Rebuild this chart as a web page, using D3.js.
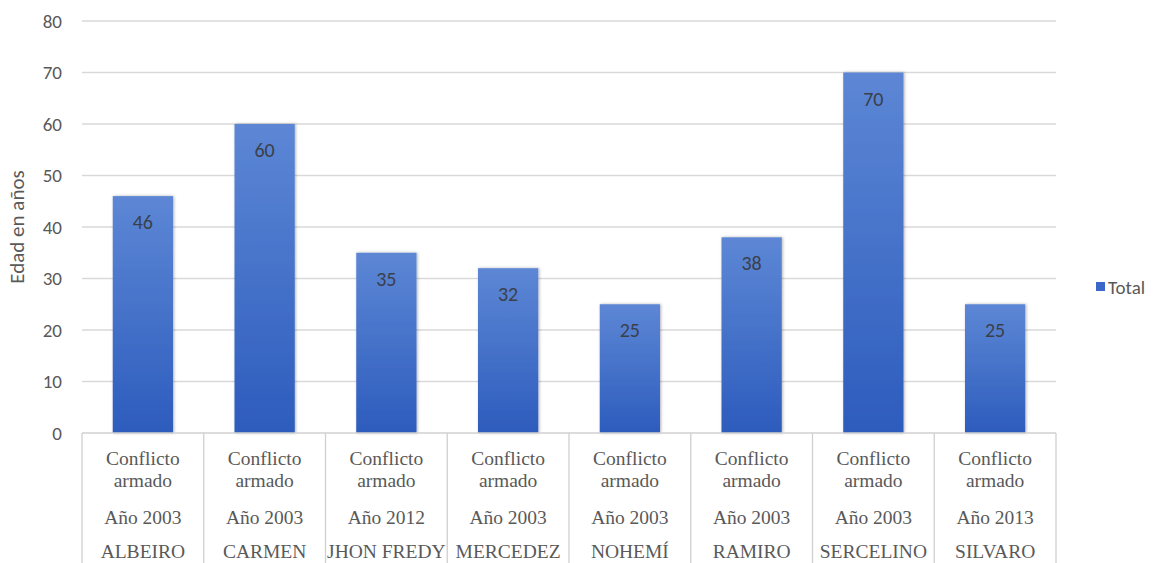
<!DOCTYPE html>
<html>
<head>
<meta charset="utf-8">
<script src="https://cdn.jsdelivr.net/npm/d3@7"></script>
<style>
body { margin: 0; background: #fff; }
</style>
</head>
<body>
<script>
// datos
var nombres = ['ALBEIRO', 'CARMEN', 'JHON FREDY', 'MERCEDEZ', 'NOHEMÍ', 'RAMIRO', 'SERCELINO', 'SILVARO'];
var anios = ['Año 2003', 'Año 2003', 'Año 2012', 'Año 2003', 'Año 2003', 'Año 2003', 'Año 2003', 'Año 2013'];
var causa = ['Conflicto armado', 'Conflicto armado', 'Conflicto armado', 'Conflicto armado',
  'Conflicto armado', 'Conflicto armado', 'Conflicto armado', 'Conflicto armado'];
var edades = [46, 60, 35, 32, 25, 38, 70, 25];
var yTicks = [0, 10, 20, 30, 40, 50, 60, 70, 80];

var w = 1160;
var h = 563;
var plotLeft = 82, plotRight = 1056, plotTop = 21, plotBottom = 433;
var sansFont = 'Carlito, "Open Sans", sans-serif';

var svg = d3.select('body').append('svg').attr('width', w).attr('height', h);

var defs = svg.append('defs');
var grad = defs.append('linearGradient').attr('id', 'barGrad')
  .attr('x1', 0).attr('y1', 0).attr('x2', 0).attr('y2', 1);
grad.append('stop').attr('offset', '0%').attr('stop-color', '#5d87d5');
grad.append('stop').attr('offset', '100%').attr('stop-color', '#2d5cbd');

var shadow = defs.append('filter').attr('id', 'shadow')
  .attr('x', '-20%').attr('y', '-10%').attr('width', '140%').attr('height', '120%');
shadow.append('feDropShadow').attr('dx', 1).attr('dy', 0).attr('stdDeviation', 1.5)
  .attr('flood-color', '#000').attr('flood-opacity', 0.3);

var x = d3.scaleBand().domain(nombres).range([plotLeft, plotRight]).paddingInner(0).paddingOuter(0);
var y = d3.scaleLinear().domain([0, 80]).range([plotBottom, plotTop]);

// gridlines
svg.selectAll('line.grid').data(yTicks.filter(function(d) { return d > 0; })).enter()
  .append('line')
  .attr('x1', plotLeft).attr('x2', plotRight)
  .attr('y1', function(d) { return y(d); })
  .attr('y2', function(d) { return y(d); })
  .attr('stroke', '#d9d9d9').attr('stroke-width', 1.3);

// eje y
var yAxis = svg.append('g').attr('transform', 'translate(' + plotLeft + ',0)')
  .call(d3.axisLeft(y).tickValues(yTicks).tickSize(0).tickPadding(20));
yAxis.select('.domain').remove();
yAxis.selectAll('text')
  .attr('font-family', sansFont)
  .attr('font-size', '19px')
  .attr('fill', '#595959');

svg.append('text')
  .attr('transform', 'translate(24,' + ((plotTop + plotBottom) / 2) + ') rotate(-90)')
  .attr('text-anchor', 'middle')
  .attr('font-family', sansFont)
  .attr('font-size', '21px')
  .attr('fill', '#595959')
  .text('Edad en años');

// barras
var bw = x.bandwidth() * 0.495;
svg.selectAll('rect.bar').data(edades).enter()
  .append('rect')
  .attr('x', function(d, i) { return x(nombres[i]) + (x.bandwidth() - bw) / 2; })
  .attr('y', function(d) { return y(d); })
  .attr('width', bw)
  .attr('height', function(d) { return y(0) - y(d); })
  .attr('fill', 'url(#barGrad)')
  .attr('filter', 'url(#shadow)');

svg.selectAll('text.val').data(edades).enter()
  .append('text')
  .text(function(d) { return d; })
  .attr('x', function(d, i) { return x(nombres[i]) + x.bandwidth() / 2; })
  .attr('y', function(d) { return y(d) + 33; })
  .attr('text-anchor', 'middle')
  .attr('font-family', sansFont)
  .attr('font-size', '20px')
  .attr('fill', '#3a3f4a');

// eje x (linea base)
svg.append('line')
  .attr('x1', plotLeft).attr('x2', plotRight)
  .attr('y1', y(0)).attr('y2', y(0))
  .attr('stroke', '#d0d0d0').attr('stroke-width', 1.5);

// separadores de categorías
var seps = nombres.map(function(d) { return x(d); }).concat([plotRight]);
svg.selectAll('line.sep').data(seps).enter()
  .append('line')
  .attr('x1', function(d) { return d; }).attr('x2', function(d) { return d; })
  .attr('y1', y(0)).attr('y2', h)
  .attr('stroke', '#d0d0d0').attr('stroke-width', 1.3);

// etiquetas de categoría
var labelFont = '"Liberation Serif", "DejaVu Serif", serif';
var g = svg.selectAll('g.cat').data(nombres).enter()
  .append('g')
  .attr('transform', function(d) { return 'translate(' + (x(d) + x.bandwidth() / 2) + ',0)'; });

g.append('text').attr('y', 465)
  .text(function(d, i) { return causa[i].split(' ')[0]; });
g.append('text').attr('y', 487)
  .text(function(d, i) { return causa[i].split(' ')[1]; });
g.append('text').attr('y', 524)
  .text(function(d, i) { return anios[i]; });
g.append('text').attr('y', 558)
  .text(function(d) { return d; });
g.selectAll('text')
  .attr('text-anchor', 'middle')
  .attr('font-family', labelFont)
  .attr('font-size', '19.5px')
  .attr('fill', '#595959');

// leyenda
svg.append('rect').attr('x', 1096).attr('y', 282).attr('width', 9).attr('height', 9)
  .attr('fill', '#3b68c8');
svg.append('text').attr('x', 1108).attr('y', 294)
  .attr('font-family', sansFont)
  .attr('font-size', '19px')
  .attr('fill', '#595959')
  .text('Total');
</script>
</body>
</html>
